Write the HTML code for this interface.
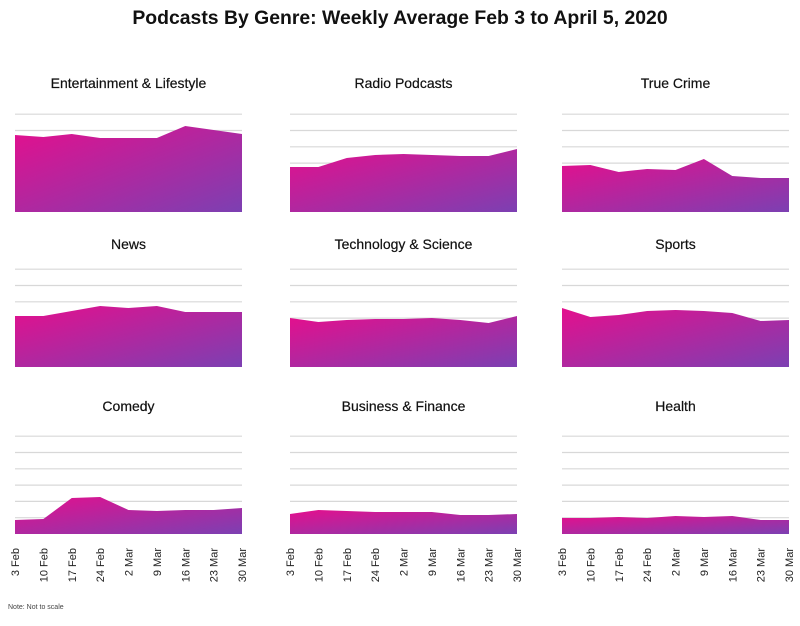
<!DOCTYPE html>
<html><head><meta charset="utf-8"><style>body{margin:0;background:#fff}svg{display:block}</style></head><body>
<svg width="800" height="626" viewBox="0 0 800 626" xmlns="http://www.w3.org/2000/svg" font-family="Liberation Sans, sans-serif">
<defs>
<linearGradient id="g" x1="0" y1="0" x2="1" y2="1"><stop offset="0" stop-color="#e40f8d"/><stop offset="1" stop-color="#7c40b2"/></linearGradient>
</defs>
<rect width="800" height="626" fill="#fff"/>
<text x="400" y="24" text-anchor="middle" font-size="19.4" font-weight="bold" fill="#111">Podcasts By Genre: Weekly Average Feb 3 to April 5, 2020</text>
<g id="c"></g>
<text x="8" y="609" font-size="7" fill="#444">Note: Not to scale</text>
</svg>
<script>
var cols=[15,290,562],bots=[212,367,534],tY=[88,249,411],W=227;
var titles=[["Entertainment & Lifestyle","Radio Podcasts","True Crime"],["News","Technology & Science","Sports"],["Comedy","Business & Finance","Health"]];
var d=[[[135,137,134,138,138,138,126,130,134],[167,167,158,155,154,155,156,156,149],[166,165,172,169,170,159,176,178,178]],
[[316,316,311,306,308,306,312,312,312],[318,322,320,319,319,318,320,323,316],[308,317,315,311,310,311,313,321,320]],
[[520,519,498,497,510,511,510,510,508],[514,510,511,512,512,512,515,515,514],[518,518,517,518,516,517,516,520,520]]];
var ticks=["3 Feb","10 Feb","17 Feb","24 Feb","2 Mar","9 Mar","16 Mar","23 Mar","30 Mar"];
var s="";
for(var r=0;r<3;r++)for(var c=0;c<3;c++){
 var x0=cols[c],b=bots[r];
 s+='<text x="'+(x0+W/2)+'" y="'+tY[r]+'" text-anchor="middle" font-size="14" fill="#111" stroke="#111" stroke-width="0.2">'+titles[r][c].replace("&","&amp;")+'</text>';
 for(var k=1;k<=6;k++){var y=b-16.3*k;s+='<line x1="'+x0+'" x2="'+(x0+W)+'" y1="'+y+'" y2="'+y+'" stroke="#d8d8d8" stroke-width="1.2"/>';}
 var p="M"+x0+","+b;
 for(var i=0;i<9;i++)p+=" L"+(x0+i*W/8)+","+d[r][c][i];
 p+=" L"+(x0+W)+","+b+"Z";
 s+='<path d="'+p+'" fill="url(#g)"/>';
 if(r==2)for(var i=0;i<9;i++){var x=x0+i*W/8+4;s+='<text transform="translate('+x+',548) rotate(-90)" text-anchor="end" font-size="11" fill="#222">'+ticks[i]+'</text>';}
}
document.getElementById("c").innerHTML=s;
</script>
</body></html>
